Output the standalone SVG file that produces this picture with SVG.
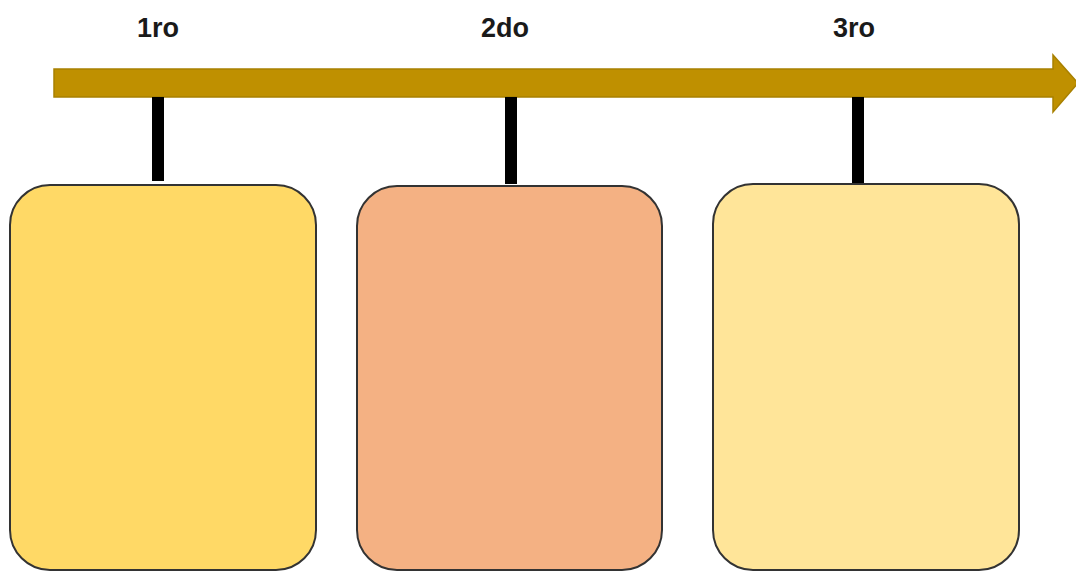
<svg xmlns="http://www.w3.org/2000/svg" width="1076" height="572" viewBox="0 0 1076 572">
<style>
.lbl{font-family:"Liberation Sans",Arial,sans-serif;font-size:27px;font-weight:bold;fill:#1a1a1a;text-anchor:middle}
.box{stroke:#333;stroke-width:2}
.stem{stroke:#000;stroke-width:12}
</style>
<rect width="1076" height="572" fill="#fff"/>
<g id="connectors">
<path d="M54,69 H1053 V55 L1078,83 L1053,112 V97 H54 Z" fill="#BF9000" stroke="#A88000" stroke-width="1.5"/>
<line class="stem" x1="158" y1="97" x2="158" y2="181"/>
<line class="stem" x1="511" y1="97" x2="511" y2="184"/>
<line class="stem" x1="858" y1="97" x2="858" y2="184"/>
</g>
<g id="label1"><text class="lbl" x="158" y="37">1ro</text></g>
<g id="label2"><text class="lbl" x="505" y="37">2do</text></g>
<g id="label3"><text class="lbl" x="854" y="37">3ro</text></g>
<g id="node1"><rect class="box" x="10" y="185" width="306" height="385" rx="40" fill="#FFD966"/></g>
<g id="node2"><rect class="box" x="357" y="186" width="305" height="384" rx="40" fill="#F4B183"/></g>
<g id="node3"><rect class="box" x="713" y="184" width="306" height="386" rx="40" fill="#FFE599"/></g>
</svg>
